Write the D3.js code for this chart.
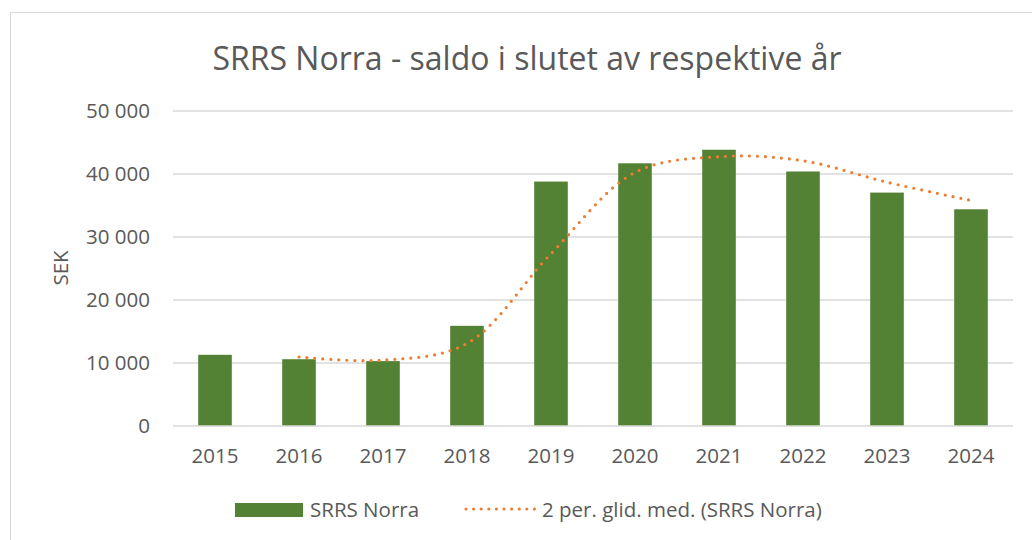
<!DOCTYPE html>
<html>
<head>
<meta charset="utf-8">
<script src="https://cdn.jsdelivr.net/npm/d3@7"></script>
<style>
  body { margin: 0; background: #fff; }
  text { font-family: "Open Sans", "Liberation Sans", sans-serif; fill: #595959; }
</style>
</head>
<body>
<svg id="chart" width="1032" height="540"></svg>
<script>
// data
const years = ['2015', '2016', '2017', '2018', '2019', '2020', '2021', '2022', '2023', '2024'];
const saldo = [11300, 10600, 10300, 15900, 38800, 41700, 43850, 40400, 37050, 34400];
// 2-period moving average as drawn (starts at 2016)
const avgYears = ['2016', '2017', '2018', '2019', '2020', '2021', '2022', '2023', '2024'];
const avgValues = [10950, 10450, 13100, 27350, 40250, 42750, 42100, 38700, 35800];
const yTicks = [0, 10000, 20000, 30000, 40000, 50000];

const svg = d3.select('#chart');
const margin = { left: 173, right: 19, top: 111, bottom: 114 };
const width = 1032, height = 540;
const labelSize = '20.5px';

// chart frame
svg.append('rect')
  .attr('x', 10.5).attr('y', 12.5)
  .attr('width', 1040).attr('height', 560)
  .attr('fill', 'none')
  .attr('stroke', '#d9d9d9');

const x = d3.scaleBand()
  .domain(years)
  .range([margin.left, width - margin.right])
  .paddingInner(0.6)
  .paddingOuter(0.3);

const y = d3.scaleLinear()
  .domain([0, 50000])
  .range([height - margin.bottom, margin.top]);

const fmt = (v) => d3.format(',')(v).replace(/,/g, ' ');

// gridlines
svg.append('g')
  .selectAll('line')
  .data(yTicks.slice(1))
  .join('line')
    .attr('x1', margin.left)
    .attr('x2', width - margin.right)
    .attr('y1', (d) => y(d))
    .attr('y2', (d) => y(d))
    .attr('stroke', '#d9d9d9')
    .attr('stroke-width', 1.3);

// y tick labels
svg.append('g')
  .selectAll('text')
  .data(yTicks)
  .join('text')
    .attr('x', 150)
    .attr('y', (d) => y(d))
    .attr('dy', '0.35em')
    .attr('text-anchor', 'end')
    .style('font-size', labelSize)
    .text(fmt);

// bars
svg.append('g')
  .selectAll('rect')
  .data(years.map((yr, i) => ({ yr, v: saldo[i] })))
  .join('rect')
    .attr('x', (d) => x(d.yr))
    .attr('y', (d) => y(d.v))
    .attr('width', x.bandwidth())
    .attr('height', (d) => y(0) - y(d.v))
    .attr('fill', '#548235');

// zero axis
svg.append('line')
  .attr('x1', margin.left)
  .attr('x2', width - margin.right)
  .attr('y1', y(0))
  .attr('y2', y(0))
  .attr('stroke', '#d9d9d9')
  .attr('stroke-width', 1.3);

// x labels
svg.append('g')
  .selectAll('text')
  .data(years)
  .join('text')
    .attr('x', (d) => x(d) + x.bandwidth() / 2)
    .attr('y', 456)
    .attr('dy', '0.35em')
    .attr('text-anchor', 'middle')
    .style('font-size', labelSize)
    .text((d) => d);

// moving average line
const line = d3.line()
  .x((d) => x(d.yr) + x.bandwidth() / 2)
  .y((d) => y(d.v))
  .curve(d3.curveCatmullRom.alpha(0.5));

svg.append('path')
  .datum(avgYears.map((yr, i) => ({ yr, v: avgValues[i] })))
  .attr('d', line)
  .attr('fill', 'none')
  .attr('stroke', '#ed7d31')
  .attr('stroke-width', 3.2)
  .attr('stroke-linecap', 'round')
  .attr('stroke-dasharray', '0 8');

// title
svg.append('text')
  .attr('x', 527)
  .attr('y', 59)
  .attr('dy', '0.35em')
  .attr('text-anchor', 'middle')
  .style('font-size', '32px')
  .text('SRRS Norra - saldo i slutet av respektive år');

// axis title
svg.append('text')
  .attr('transform', 'translate(61,268) rotate(-90)')
  .attr('dy', '0.35em')
  .attr('text-anchor', 'middle')
  .style('font-size', labelSize)
  .text('SEK');

// legend
const legend = svg.append('g');
legend.append('rect')
  .attr('x', 235).attr('y', 503)
  .attr('width', 68).attr('height', 14)
  .attr('fill', '#548235');
legend.append('text')
  .attr('x', 310).attr('y', 510)
  .attr('dy', '0.35em')
  .style('font-size', labelSize)
  .text('SRRS Norra');
legend.append('line')
  .attr('x1', 466).attr('x2', 535)
  .attr('y1', 509).attr('y2', 509)
  .attr('stroke', '#ed7d31')
  .attr('stroke-width', 3.2)
  .attr('stroke-linecap', 'round')
  .attr('stroke-dasharray', '0 7.6');
legend.append('text')
  .attr('x', 542).attr('y', 510)
  .attr('dy', '0.35em')
  .style('font-size', labelSize)
  .text('2 per. glid. med. (SRRS Norra)');
</script>
</body>
</html>
